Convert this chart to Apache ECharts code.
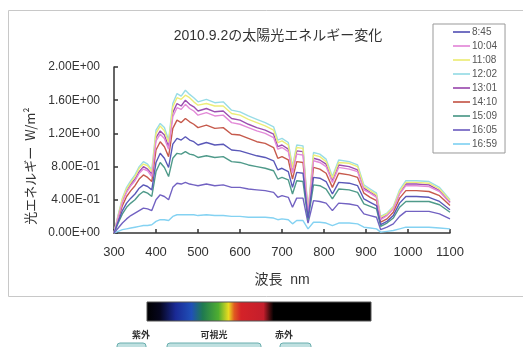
<!DOCTYPE html>
<html>
<head>
<meta charset="utf-8">
<script src="https://cdn.jsdelivr.net/npm/echarts@6/dist/echarts.min.js"></script>
<style>
html,body{margin:0;padding:0;background:#fff;}
#c{width:523px;height:347px;}
</style>
</head>
<body>
<div id="c"></div>
<script>
const wavelengths = [300,310,320,330,340,350,360,370,380,390,400,410,420,430,440,450,460,470,480,490,500,520,540,560,580,600,620,640,660,680,690,700,715,725,735,750,762,775,790,805,820,835,860,880,895,910,925,935,950,965,980,995,1020,1050,1075,1100];

const seriesNames = ['8:45','10:04','11:08','12:02','13:01','14:10','15:09','16:05','16:59'];
const seriesColors = ['#5a58b8','#e38ad8','#eded78','#98dce6','#9c4fb0','#c65a4c','#4f9a8a','#7262c2','#84d2f2'];

const s0845 = [0.00,0.14,0.27,0.36,0.42,0.47,0.54,0.58,0.56,0.52,0.85,0.96,0.90,0.79,1.07,1.14,1.12,1.16,1.12,1.10,1.06,1.09,1.06,1.07,1.00,0.99,0.96,0.93,0.91,0.87,0.76,0.78,0.74,0.55,0.73,0.72,0.18,0.67,0.66,0.62,0.47,0.61,0.60,0.57,0.41,0.37,0.33,0.10,0.14,0.21,0.36,0.44,0.44,0.43,0.38,0.28];
const s1004 = [0.00,0.19,0.37,0.49,0.57,0.63,0.72,0.77,0.75,0.68,1.11,1.19,1.14,1.01,1.40,1.51,1.49,1.55,1.50,1.47,1.42,1.45,1.41,1.42,1.33,1.31,1.27,1.23,1.20,1.15,1.01,1.03,0.98,0.72,0.95,0.94,0.23,0.87,0.85,0.80,0.61,0.79,0.77,0.74,0.52,0.48,0.43,0.16,0.21,0.29,0.47,0.57,0.57,0.56,0.50,0.36];
const s1108 = [0.00,0.21,0.41,0.53,0.61,0.68,0.78,0.83,0.81,0.74,1.20,1.29,1.23,1.09,1.52,1.63,1.61,1.66,1.63,1.58,1.54,1.56,1.53,1.53,1.44,1.42,1.37,1.33,1.29,1.24,1.09,1.11,1.06,0.78,1.03,1.02,0.25,0.94,0.92,0.86,0.66,0.85,0.84,0.80,0.56,0.51,0.46,0.19,0.23,0.31,0.50,0.61,0.61,0.60,0.53,0.39];
const s1202 = [0.00,0.22,0.42,0.55,0.63,0.70,0.80,0.86,0.83,0.76,1.24,1.32,1.27,1.12,1.56,1.68,1.65,1.72,1.67,1.63,1.58,1.61,1.57,1.58,1.48,1.46,1.41,1.37,1.33,1.28,1.12,1.14,1.09,0.80,1.06,1.05,0.26,0.97,0.95,0.89,0.68,0.88,0.86,0.82,0.58,0.53,0.48,0.20,0.24,0.32,0.52,0.63,0.63,0.62,0.55,0.40];
const s1301 = [0.00,0.20,0.39,0.51,0.59,0.65,0.74,0.80,0.77,0.71,1.15,1.23,1.18,1.04,1.45,1.56,1.53,1.60,1.55,1.52,1.47,1.50,1.46,1.47,1.38,1.36,1.31,1.27,1.24,1.19,1.04,1.06,1.01,0.74,0.99,0.98,0.24,0.90,0.88,0.83,0.63,0.82,0.80,0.76,0.54,0.49,0.45,0.17,0.22,0.30,0.48,0.59,0.59,0.58,0.51,0.37];
const s1410 = [0.00,0.17,0.33,0.44,0.51,0.57,0.65,0.70,0.67,0.62,1.00,1.10,1.04,0.92,1.26,1.36,1.33,1.38,1.34,1.31,1.27,1.30,1.26,1.27,1.19,1.18,1.14,1.10,1.08,1.03,0.90,0.92,0.88,0.65,0.86,0.85,0.21,0.79,0.77,0.72,0.55,0.72,0.70,0.67,0.48,0.43,0.39,0.13,0.17,0.25,0.42,0.51,0.51,0.50,0.45,0.33];
const s1509 = [0.00,0.12,0.23,0.31,0.36,0.40,0.46,0.50,0.48,0.44,0.74,0.85,0.79,0.68,0.90,0.96,0.95,0.98,0.95,0.94,0.91,0.93,0.91,0.92,0.86,0.85,0.82,0.80,0.78,0.75,0.65,0.67,0.64,0.47,0.63,0.62,0.16,0.58,0.57,0.53,0.41,0.53,0.52,0.49,0.35,0.32,0.29,0.08,0.12,0.18,0.31,0.38,0.38,0.38,0.34,0.25];
const s1605 = [0.00,0.06,0.12,0.17,0.21,0.24,0.27,0.30,0.29,0.27,0.40,0.46,0.44,0.40,0.55,0.60,0.59,0.61,0.59,0.58,0.57,0.59,0.57,0.58,0.55,0.55,0.53,0.52,0.51,0.49,0.43,0.45,0.43,0.31,0.42,0.42,0.12,0.39,0.38,0.36,0.27,0.36,0.35,0.33,0.23,0.21,0.19,0.04,0.07,0.11,0.20,0.26,0.26,0.26,0.23,0.17];
const s1659 = [0.00,0.02,0.04,0.05,0.06,0.07,0.08,0.09,0.09,0.10,0.14,0.16,0.16,0.15,0.20,0.22,0.22,0.22,0.22,0.22,0.21,0.22,0.21,0.21,0.20,0.20,0.19,0.19,0.19,0.18,0.16,0.17,0.16,0.11,0.15,0.15,0.05,0.13,0.13,0.12,0.09,0.12,0.12,0.11,0.07,0.06,0.05,0.01,0.02,0.03,0.05,0.07,0.07,0.07,0.06,0.05];

const seriesValues = [s0845,s1004,s1108,s1202,s1301,s1410,s1509,s1605,s1659];

const xTicks = [300,400,500,600,700,800,900,1000,1100];
const yTickLabels = ['0.00E+00','4.00E-01','8.00E-01','1.20E+00','1.60E+00','2.00E+00'];

const chart = echarts.init(document.getElementById('c'));
const FONT = "'Liberation Sans','Noto Sans CJK JP',sans-serif";

const series = seriesNames.map((n,i)=>({
  name:n,
  type:'line',
  symbol:'none',
  smooth:false,
  lineStyle:{width:1.4,color:seriesColors[i]},
  itemStyle:{color:seriesColors[i]},
  data:wavelengths.map((w,k)=>[w,seriesValues[i][k]]),
  z: 10 - i
}));

chart.setOption({
  animation:false,
  backgroundColor:'#fff',
  textStyle:{fontFamily:FONT},
  title:{
    text:'2010.9.2の太陽光エネルギー変化',
    left:273, top:24, textAlign:'center',
    textStyle:{fontSize:14,fontWeight:'normal',color:'#333',fontFamily:FONT}
  },
  legend:{
    orient:'vertical',
    left:433, top:24,
    padding:[3,8,4,20],
    icon:'path://M0,0h20v2h-20z',
    itemWidth:17, itemHeight:10, itemGap:4,
    borderColor:'#999', borderWidth:1,
    backgroundColor:'#fff',
    textStyle:{fontSize:10,color:'#555',fontFamily:FONT,padding:[0,0,0,-3]},
    data:seriesNames
  },
  grid:{left:114,right:73,top:67,bottom:114},
  xAxis:{
    type:'value', min:300, max:1100, interval:100,
    name:'波長  nm', nameLocation:'middle', nameGap:40,
    nameTextStyle:{fontSize:14,color:'#333',fontFamily:FONT},
    axisLine:{lineStyle:{color:'#333',width:1.5}},
    axisTick:{inside:true,length:4,lineStyle:{color:'#333',width:1.5}},
    axisLabel:{fontSize:13,color:'#333',margin:13,fontFamily:FONT,
      formatter:v=>String(xTicks[Math.round((v-300)/100)])},
    splitLine:{show:false}
  },
  yAxis:{
    type:'value', min:0, max:2, interval:0.4,
    axisLine:{show:true,lineStyle:{color:'#333',width:1.5}},
    axisTick:{show:true,inside:true,length:4,lineStyle:{color:'#333',width:1.5}},
    axisLabel:{fontSize:12,color:'#333',margin:14,fontFamily:FONT,
      formatter:v=>yTickLabels[Math.round(v/0.4)]},
    splitLine:{show:false}
  },
  graphic:[
    {type:'rect',z:-10,silent:true,shape:{x:8.5,y:10.5,width:530,height:286},style:{fill:'#fff',stroke:'#c8c8c8',lineWidth:1}},
    {type:'text',x:30,y:166,rotation:Math.PI/2,style:{text:'光エネルギー  W/m²',font:"13px 'Noto Sans CJK JP',sans-serif",fill:'#333',textAlign:'center',textVerticalAlign:'middle'}},
    {type:'rect',silent:true,shape:{x:147,y:302,width:224,height:19},style:{
      fill:{type:'linear',x:0,y:0,x2:1,y2:0,colorStops:[
        {offset:0,color:'#000'},{offset:0.06,color:'#06061e'},{offset:0.13,color:'#1a2a96'},
        {offset:0.2,color:'#2050b8'},{offset:0.25,color:'#1f7a50'},{offset:0.32,color:'#4fae30'},
        {offset:0.365,color:'#eadb20'},{offset:0.39,color:'#e05a20'},{offset:0.42,color:'#d42228'},
        {offset:0.52,color:'#c41e2c'},{offset:0.55,color:'#3a0a0c'},{offset:0.565,color:'#000'},{offset:1,color:'#000'}]},
      stroke:'#555',lineWidth:1}},
    {type:'text',x:141,y:335,style:{text:'紫外',font:"bold 9px 'Noto Sans CJK JP',sans-serif",fill:'#333',textAlign:'center',textVerticalAlign:'middle'}},
    {type:'text',x:214,y:335,style:{text:'可視光',font:"bold 9px 'Noto Sans CJK JP',sans-serif",fill:'#333',textAlign:'center',textVerticalAlign:'middle'}},
    {type:'text',x:284,y:335,style:{text:'赤外',font:"bold 9px 'Noto Sans CJK JP',sans-serif",fill:'#333',textAlign:'center',textVerticalAlign:'middle'}},
    {type:'rect',shape:{x:117,y:343,width:29,height:8,r:[3,3,0,0]},style:{fill:'#bfe0e0',stroke:'#6aaeae',lineWidth:1}},
    {type:'rect',shape:{x:167,y:343,width:94,height:8,r:[3,3,0,0]},style:{fill:'#bfe0e0',stroke:'#6aaeae',lineWidth:1}},
    {type:'rect',shape:{x:280,y:343,width:31,height:8,r:[3,3,0,0]},style:{fill:'#bfe0e0',stroke:'#6aaeae',lineWidth:1}}
  ],
  series:series
});
</script>
</body>
</html>
